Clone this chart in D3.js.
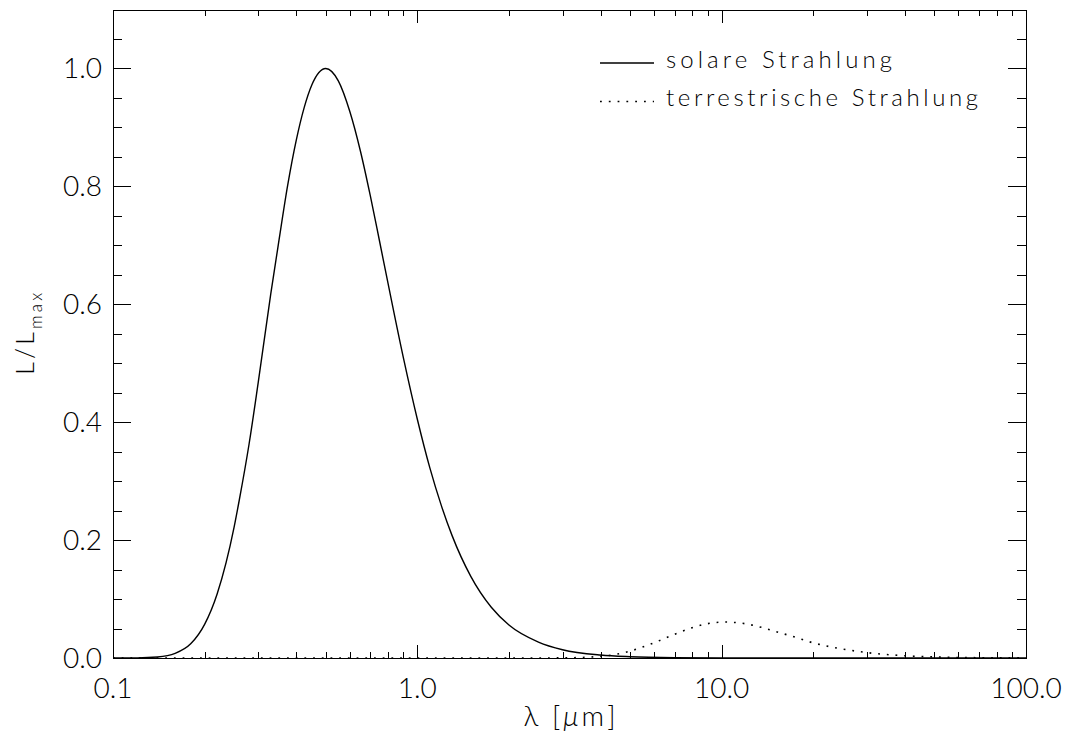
<!DOCTYPE html>
<html><head><meta charset="utf-8">
<script src="https://cdn.jsdelivr.net/npm/d3@7"></script>
<style>
html,body{margin:0;padding:0;background:#fff;}
text{font-family:"Lato","DejaVu Sans",sans-serif;font-weight:300;fill:#000;}
</style></head>
<body><svg id="c" width="1074" height="743"></svg>
<script>
// wavelength samples (µm) and normalized radiance
const lambdaSolar = [0.1,0.12,0.14,0.16,0.18,0.2,0.22,0.25,0.26,0.28,0.3,0.33,0.35,0.375,0.4,0.425,0.45,0.5,0.55,0.6,0.65,0.7,0.75,0.8,0.9,1.0,1.1,1.2,1.3,1.5,1.75,2.0,2.5,3.0,4.0,5.0,7.0,10,20,100];
const solar       = [0,0.0002,0.0017,0.0078,0.024,0.057,0.109,0.222,0.268,0.363,0.467,0.618,0.704,0.802,0.878,0.934,0.972,1.0,0.979,0.927,0.860,0.785,0.709,0.637,0.509,0.405,0.322,0.258,0.208,0.138,0.086,0.056,0.027,0.014,0.005,0.0022,0.0006,0.0002,0,0];
const lambdaTerr  = [0.1,1,2,3,4,5,6,7,8,9,10.3,11,12,13.5,15,17.5,20,25,30,40,50,70,100];
const terr        = [0,0,0,0.0002,0.0028,0.0117,0.0259,0.0402,0.0513,0.0583,0.061,0.0603,0.058,0.052,0.0452,0.035,0.0256,0.0152,0.0092,0.0038,0.0018,0.0005,0.0002];
const xMajorTicks = [0.1,1,10,100];
const xTickLabels = ["0.1","1.0","10.0","100.0"];
const yMajorTicks = [0,0.2,0.4,0.6,0.8,1.0];
const yTickLabels = ["0.0","0.2","0.4","0.6","0.8","1.0"];
const legendLabels = ["solare Strahlung","terrestrische Strahlung"];

const svg = d3.select("#c");
const L = 113, R = 1026, T = 9.5, B = 658;
const x = d3.scaleLog().domain([0.1,100]).range([L,R]);
const y = d3.scaleLinear().domain([0,1.1]).range([B,T]);

svg.append("rect").attr("width",1074).attr("height",743).attr("fill","#fff");

// minor tick positions
const xMinor = [];
[0.1,1,10].forEach(d=>{for(let k=2;k<=9;k++) xMinor.push(d*k);});
const yMinor = d3.range(0,1.1001,0.05).map(v=>+v.toFixed(2)).filter(v=>!yMajorTicks.includes(v));

const g = svg.append("g").attr("stroke","#000").attr("stroke-width",1).attr("shape-rendering","crispEdges");
const xMajLen = 13, xMinLen = 6.5, yMajLen = 18, yMinLen = 9;
xMajorTicks.concat(xMinor).forEach(v=>{
  const len = xMajorTicks.includes(v) ? xMajLen : xMinLen;
  const px = Math.round(x(v))+0.5;
  g.append("line").attr("x1",px).attr("x2",px).attr("y1",B).attr("y2",B-len);
  g.append("line").attr("x1",px).attr("x2",px).attr("y1",T).attr("y2",T+len);
});
yMajorTicks.concat(yMinor).forEach(v=>{
  const len = yMajorTicks.includes(v) ? yMajLen : yMinLen;
  const py = Math.round(y(v))+0.5;
  g.append("line").attr("x1",L).attr("x2",L+len).attr("y1",py).attr("y2",py);
  g.append("line").attr("x1",R).attr("x2",R-len).attr("y1",py).attr("y2",py);
});
svg.append("rect").attr("x",L+0.5).attr("y",T+0.5).attr("width",R-L).attr("height",B-T)
  .attr("fill","none").attr("stroke","#000").attr("stroke-width",1).attr("shape-rendering","crispEdges");

// tick labels
svg.selectAll(".xl").data(xMajorTicks).enter().append("text")
  .attr("x",d=>x(d)).attr("y",698).attr("text-anchor","middle").attr("font-size",28)
  .text((d,i)=>xTickLabels[i]);
svg.selectAll(".yl").data(yMajorTicks).enter().append("text")
  .attr("x",102).attr("y",d=>y(d)+10).attr("text-anchor","end").attr("font-size",28)
  .text((d,i)=>yTickLabels[i]);

// axis titles
svg.append("text").attr("x",(L+R)/2).attr("y",726).attr("text-anchor","middle").attr("font-size",28)
  .attr("textLength",92).attr("lengthAdjust","spacing")
  .html('λ [<tspan font-style="italic">μ</tspan>m]');
const yt = svg.append("text").attr("transform",`translate(34,${(T+B)/2}) rotate(-90)`)
  .attr("text-anchor","middle").attr("font-size",25);
yt.append("tspan").text("L/L");
yt.append("tspan").attr("font-size",17).attr("dy",8).text("max");
yt.attr("textLength",82).attr("lengthAdjust","spacing");

// curves
const line = d3.line().x(d=>x(d[0])).y(d=>y(d[1])).curve(d3.curveMonotoneX);
svg.append("path").datum(lambdaSolar.map((l,i)=>[l,solar[i]]))
  .attr("d",line).attr("fill","none").attr("stroke","#000").attr("stroke-width",1.4);
svg.append("path").datum(lambdaTerr.map((l,i)=>[l,terr[i]]))
  .attr("d",line).attr("fill","none").attr("stroke","#000").attr("stroke-width",1.6)
  .attr("stroke-dasharray","1.8,6.9");

// legend
const lg = svg.append("g");
lg.append("line").attr("x1",600).attr("x2",654).attr("y1",63).attr("y2",63).attr("stroke","#000").attr("stroke-width",1.4);
lg.append("line").attr("x1",600).attr("x2",654).attr("y1",101.5).attr("y2",101.5).attr("stroke","#000").attr("stroke-width",1.6).attr("stroke-dasharray","1.8,7");
lg.append("text").attr("x",666).attr("y",68).attr("font-size",24).attr("textLength",226).attr("lengthAdjust","spacing").text(legendLabels[0]);
lg.append("text").attr("x",666).attr("y",106).attr("font-size",24).attr("textLength",312).attr("lengthAdjust","spacing").text(legendLabels[1]);
</script></body></html>
